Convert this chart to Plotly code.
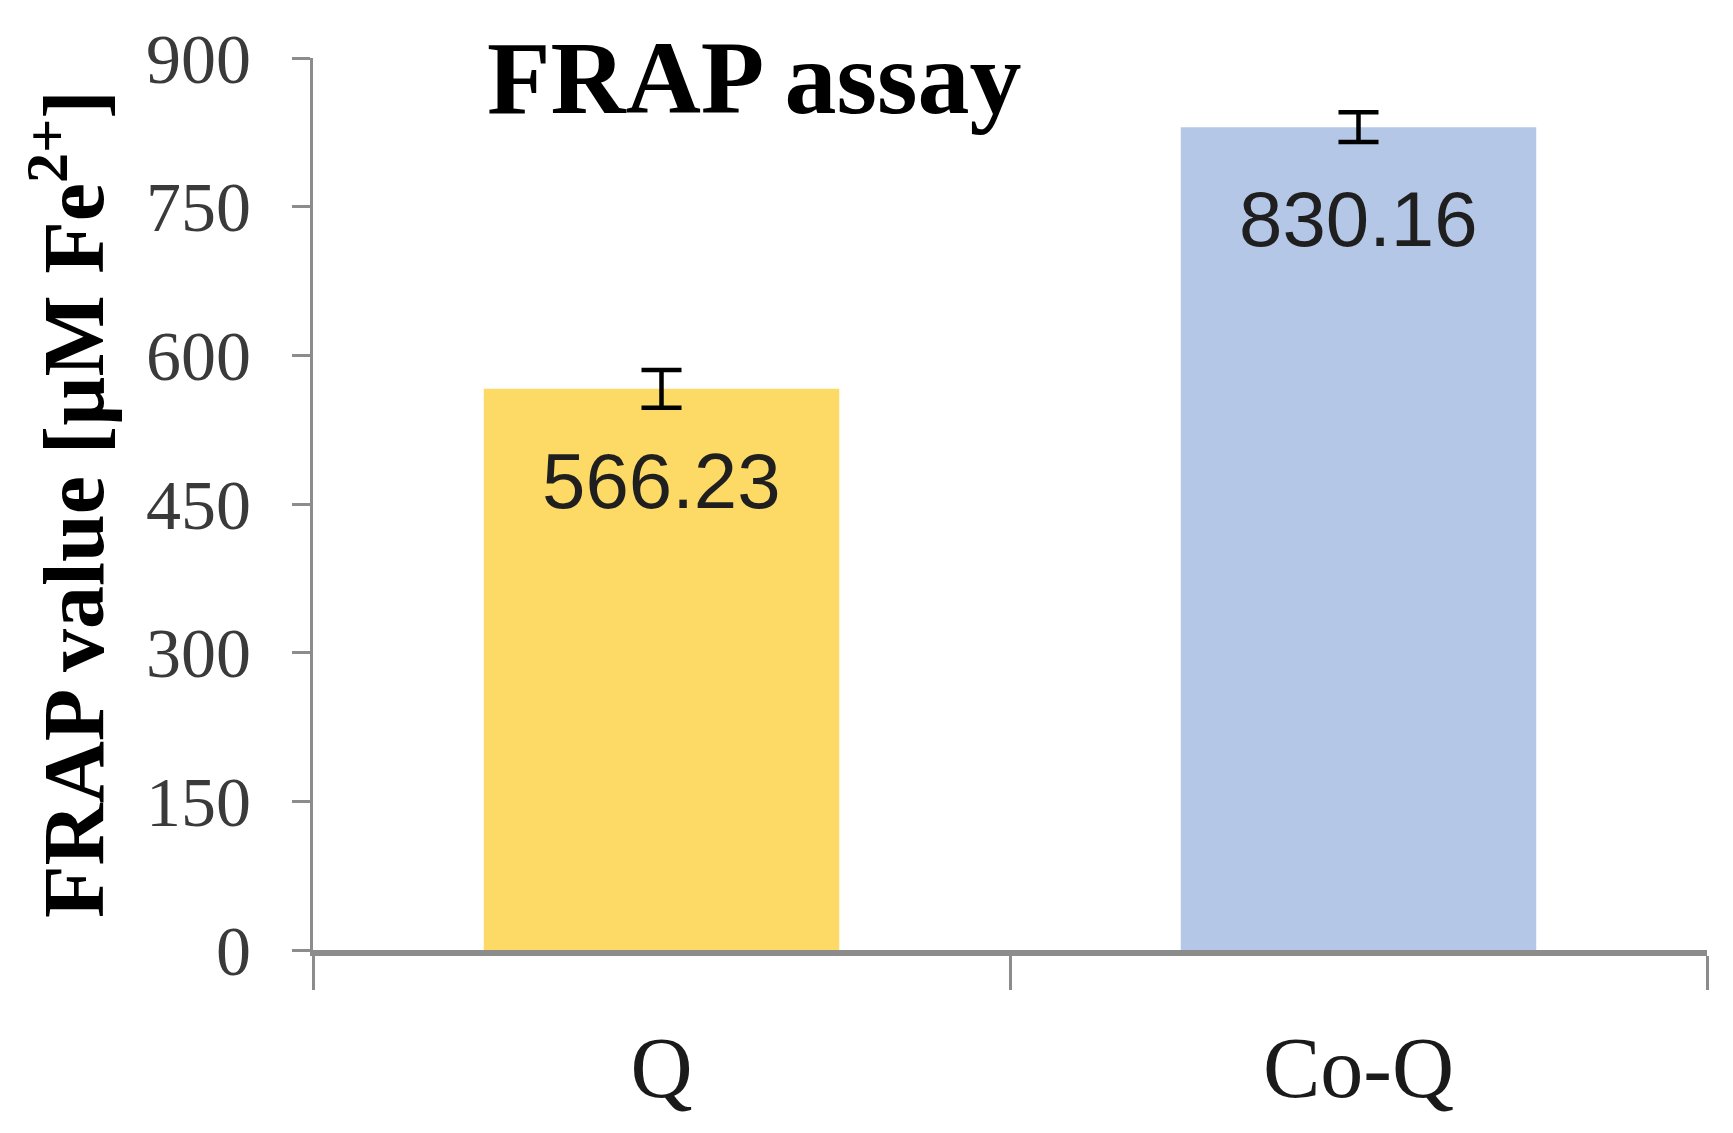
import plotly.graph_objects as go

# ==================== DATA ====================
categories = ["Q", "Co-Q"]
frap_values = [566.23, 830.16]
frap_errors = [19, 15]
bar_colors = ["#FDD966", "#B4C7E7"]
value_labels = ["566.23", "830.16"]
y_ticks = [0, 150, 300, 450, 600, 750, 900]

AXIS_GRAY = "#8C8C8C"
SERIF = "Liberation Serif, Times New Roman, serif"

fig = go.Figure()

fig.add_trace(go.Bar(
    x=categories,
    y=frap_values,
    marker=dict(color=bar_colors, line=dict(width=0)),
    error_y=dict(type="data", array=frap_errors, color="black",
                 thickness=4.5, width=20),
    showlegend=False,
))

# value labels inside the bars, just under the top
for cat, val, lab in zip(categories, frap_values, value_labels):
    fig.add_annotation(
        x=cat, y=val, text=lab, showarrow=False,
        yanchor="top", yshift=-46,
        font=dict(family="Liberation Sans, Arial, sans-serif", size=78, color="#1F1F1F"),
    )

# chart title sits inside the plot area
fig.add_annotation(
    xref="paper", yref="paper", x=0.316, y=1.0,
    text="<b>FRAP assay</b>", showarrow=False,
    xanchor="center", yanchor="top", yshift=40,
    font=dict(family=SERIF, size=104, color="black"),
)

# page body adds an 8px offset, so the figure is 8px smaller
fig.update_layout(
    width=1725,
    height=1125,
    paper_bgcolor="white",
    plot_bgcolor="white",
    bargap=0.49,
    margin=dict(l=305, r=26, t=44, b=183),
    font=dict(family=SERIF),
    xaxis=dict(
        showline=True, linecolor=AXIS_GRAY, linewidth=6,
        ticks="outside", tickson="boundaries", ticklen=34,
        tickwidth=3, tickcolor=AXIS_GRAY,
        ticklabelstandoff=38,
        tickfont=dict(family=SERIF, size=86, color="#1A1A1A"),
        showgrid=False, zeroline=False,
    ),
    yaxis=dict(
        range=[0, 900],
        tickvals=y_ticks,
        showline=True, linecolor=AXIS_GRAY, linewidth=3,
        ticks="outside", ticklen=18, tickwidth=3, tickcolor=AXIS_GRAY,
        ticklabelstandoff=27,
        tickfont=dict(family=SERIF, size=70, color="#3A3A3A"),
        showgrid=False, zeroline=False,
        title=dict(
            text="<b>FRAP value [µM Fe<sup>2+</sup>]</b>",
            font=dict(family=SERIF, size=86, color="black"),
            standoff=14,
        ),
    ),
)

fig.write_html("out.html")
